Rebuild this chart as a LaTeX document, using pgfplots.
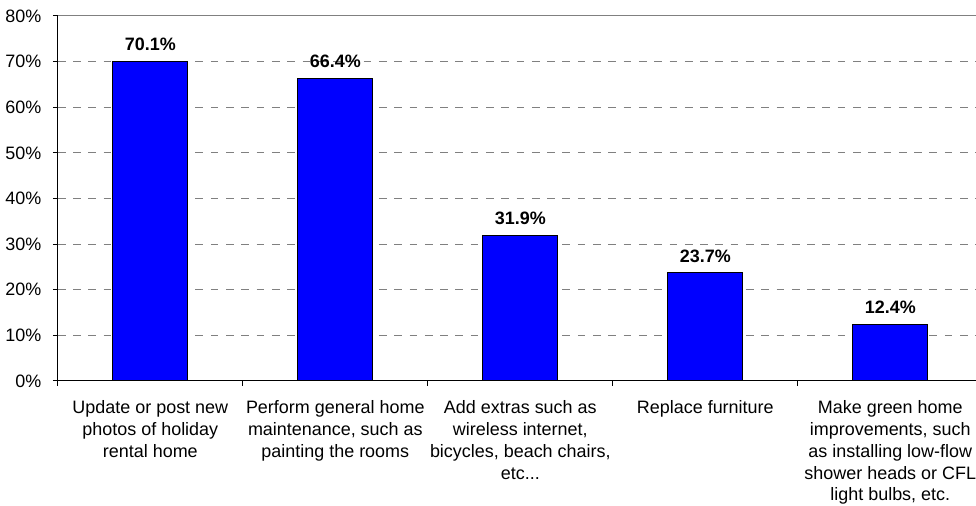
\documentclass[border=0pt]{standalone}
\usepackage{fontspec}
\setmainfont{Liberation Sans}
\usepackage{pgfplots}
\pgfplotsset{compat=1.18}
\begin{document}
\fontsize{13.5}{16.5}\selectfont
\begin{tikzpicture}
\begin{axis}[
  at={(0,0)}, anchor=south west,
  scale only axis, width=695.6pt, height=274.5pt,
  xmin=-0.5, xmax=4.5, ymin=0, ymax=80,
  axis x line*=bottom, axis y line*=left,
  axis line style={black, line width=0.8pt},
  /pgf/number format/assume math mode=true,
  ytick={0,10,...,70},
  extra y ticks={80},
  extra y tick style={ymajorgrids=true, grid style={solid, gray, line width=0.8pt}},
  yticklabel={\pgfmathprintnumber{\tick}\%},
  ymajorgrids,
  grid style={gray, line width=0.75pt, dash pattern=on 5.8pt off 5.7pt},
  xtick={0,1,2,3,4},
  xticklabels={
    {Update or post new\\photos of holiday\\rental home},
    {Perform general home\\maintenance, such as\\painting the rooms},
    {Add extras such as\\wireless internet,\\bicycles, beach chairs,\\etc.{.}.},
    {Replace furniture},
    {Make green home\\improvements, such\\as installing low-flow\\shower heads or CFL\\light bulbs, etc.}},
  xticklabel style={align=center, anchor=north, yshift=-6pt},
  major x tick style={draw=none},
  minor xtick={-0.5,0.5,1.5,2.5,3.5},
  tick align=outside,
  major tick length=3.75pt, minor tick length=3.75pt,
  tick style={black, line width=0.8pt},
  yticklabel style={xshift=-4pt},
  nodes near coords={\pgfmathprintnumber[fixed,fixed zerofill,precision=1]{\pgfplotspointmeta}\%},
  every node near coord/.append style={font=\bfseries, black, yshift=3pt},
]
\addplot[ybar, fill=blue, draw=black, line width=0.75pt, bar width=0.404]
  coordinates {(0,70.1) (1,66.4) (2,31.9) (3,23.7) (4,12.4)};
\end{axis}
\pgfresetboundingbox
\path (-43.5pt,-93.75pt) rectangle (690.5pt,286.5pt);
\end{tikzpicture}
\end{document}
